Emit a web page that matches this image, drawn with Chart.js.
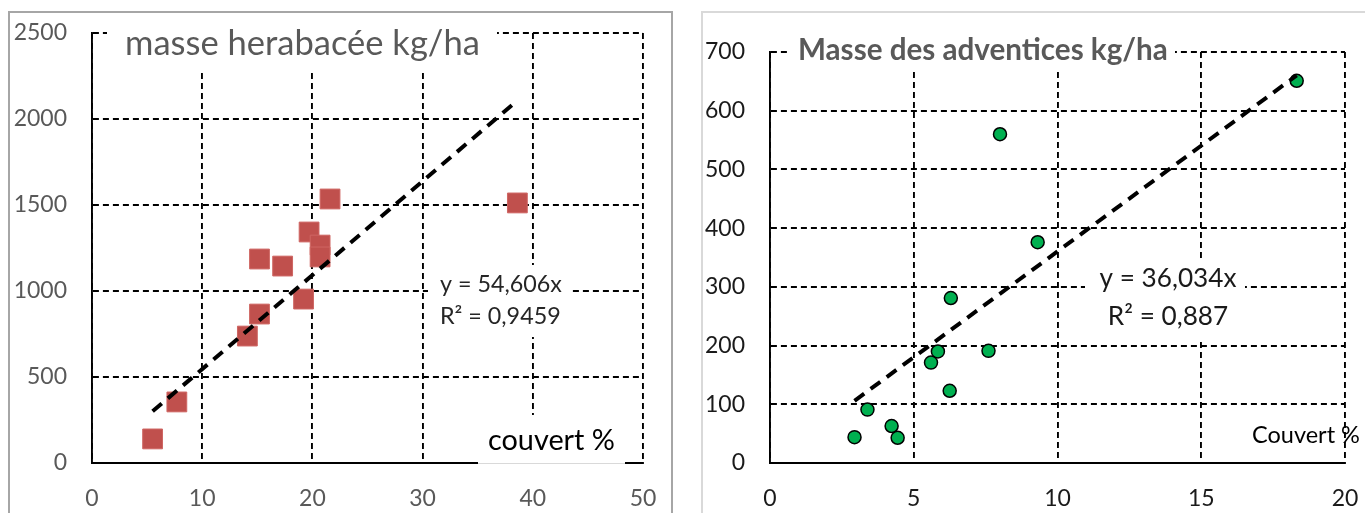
<!DOCTYPE html>
<html>
<head>
<meta charset="utf-8">
<script src="https://cdn.jsdelivr.net/npm/chart.js"></script>
<style>
  body { margin: 0; background: #fff; width: 1365px; height: 513px; overflow: hidden; position: relative; }
  .frame { position: absolute; box-sizing: border-box; }
  #frameL { left: 8px; top: 11px; width: 665px; height: 530px; border: 2px solid #a6a6a6; }
  #frameR { left: 701px; top: 11px; width: 700px; height: 530px; border: 2px solid #d9d9d9; }
  #herbChart { position: absolute; left: 0; top: 0; }
  #advChart { position: absolute; left: 690px; top: 0; }
</style>
</head>
<body>
<div class="frame" id="frameL"></div>
<div class="frame" id="frameR"></div>
<canvas id="herbChart" width="680" height="513"></canvas>
<canvas id="advChart" width="675" height="513"></canvas>
<script>
// graphique de gauche : masse herbacée
const couvertHerb = [5.5, 7.7, 14.1, 15.2, 15.2, 17.3, 19.2, 19.7, 20.7, 20.7, 21.6, 38.6];
const masseHerb = [140, 355, 738, 866, 1186, 1145, 953, 1343, 1267, 1198, 1535, 1512];
const penteHerb = 54.606;
const axeXHerb = [0, 50, 10];   // min, max, pas
const axeYHerb = [0, 2500, 500];
const titreHerb = 'masse herabacée kg/ha';
const equationHerb = ['y = 54,606x', 'R² = 0,9459'];
const legendeXHerb = 'couvert %';

// graphique de droite : adventices
const couvertAdv = [2.94, 3.39, 4.23, 4.44, 5.6, 5.84, 6.29, 6.25, 7.6, 8.0, 9.31, 18.32];
const masseAdv = [44, 91, 63, 43, 171, 190, 281, 123, 191, 560, 376, 651];
const penteAdv = 36.034;
const axeXAdv = [0, 20, 5];
const axeYAdv = [0, 700, 100];
const titreAdv = 'Masse des adventices kg/ha';
const equationAdv = ['y = 36,034x', 'R² = 0,887'];
const legendeXAdv = 'Couvert %';

const FONT = 'Lato, "Open Sans", sans-serif';

function points(xs, ys) {
  return xs.map((x, i) => ({ x, y: ys[i] }));
}

function tendance(xs, pente) {
  const x0 = Math.min(...xs), x1 = Math.max(...xs);
  return [{ x: x0, y: pente * x0 }, { x: x1, y: pente * x1 }];
}

function tailleAjustee(ctx, text, weight, width) {
  ctx.font = weight + ' 100px ' + FONT;
  return 100 * width / ctx.measureText(text).width;
}

// boîtes blanches + textes posés par-dessus la grille
const annotations = {
  id: 'annotations',
  afterDraw(chart, args, opts) {
    const ctx = chart.ctx;
    ctx.save();
    (opts.boxes || []).forEach(b => {
      ctx.fillStyle = '#fff';
      ctx.fillRect(b.x, b.y, b.w, b.h);
      if (b.bottomLine) {
        ctx.strokeStyle = '#d9d9d9';
        ctx.lineWidth = 1;
        ctx.beginPath();
        ctx.moveTo(b.x, b.y + b.h - 0.5);
        ctx.lineTo(b.x + b.w, b.y + b.h - 0.5);
        ctx.stroke();
      }
    });
    (opts.texts || []).forEach(t => {
      const size = tailleAjustee(ctx, t.lines[0], t.weight || 'normal', t.width);
      ctx.font = (t.weight || 'normal') + ' ' + size + 'px ' + FONT;
      ctx.fillStyle = t.color;
      ctx.textAlign = t.align || 'left';
      ctx.textBaseline = 'alphabetic';
      t.lines.forEach((line, i) => ctx.fillText(line, t.x, t.y + i * (t.lineGap || 0)));
    });
    ctx.restore();
  }
};

function echelle(axe, color, pad, fit) {
  return {
    type: 'linear',
    min: axe[0],
    max: axe[1],
    afterFit: s => {
      fit(s);
      s.paddingLeft = 0; s.paddingRight = 0;
      s.paddingTop = 0; s.paddingBottom = 0;
    },
    ticks: {
      stepSize: axe[2],
      color,
      font: { family: FONT, size: 23 },
      padding: pad,
      callback: v => String(v)
    },
    grid: { color: '#000', lineWidth: 1.9, drawTicks: false },
    border: { display: true, color: '#000', width: 1.9, dash: [6, 4] }
  };
}

function creer(id, cfg) {
  return new Chart(document.getElementById(id), {
    type: 'scatter',
    data: {
      datasets: [
        {
          type: 'line',
          data: tendance(cfg.xs, cfg.pente),
          showLine: true,
          borderColor: '#000',
          borderWidth: 4,
          borderDash: [12, 8],
          pointRadius: 0,
          fill: false
        },
        Object.assign({ data: points(cfg.xs, cfg.ys) }, cfg.marker)
      ]
    },
    options: {
      responsive: false,
      animation: false,
      layout: { padding: cfg.padding },
      plugins: {
        legend: { display: false },
        tooltip: { enabled: false },
        annotations: cfg.annotations
      },
      scales: {
        x: echelle(cfg.axeX, cfg.tickColor, 22, s => { s.height = 50; }),
        y: echelle(cfg.axeY, cfg.tickColor, 25, s => { s.width = cfg.yWidth; })
      }
    },
    plugins: [annotations]
  });
}

creer('herbChart', {
  xs: couvertHerb, ys: masseHerb, pente: penteHerb,
  axeX: axeXHerb, axeY: axeYHerb,
  tickColor: '#595959',
  yWidth: 92,
  padding: { top: 33, right: 37, left: 0, bottom: 0 },
  marker: {
    pointStyle: 'rect',
    pointRadius: 14,
    backgroundColor: '#C0504D',
    borderColor: '#cf6663',
    borderWidth: 1
  },
  annotations: {
    boxes: [
      { x: 107, y: 18, w: 390, h: 55 },
      { x: 428, y: 265, w: 142, h: 72 },
      { x: 478, y: 415, w: 147, h: 49, bottomLine: true }
    ],
    texts: [
      { lines: [titreHerb], x: 125, y: 55, width: 355, color: '#595959' },
      { lines: equationHerb, x: 440, y: 292, width: 122, color: '#262626', lineGap: 32 },
      { lines: [legendeXHerb], x: 488, y: 450, width: 127, color: '#000' }
    ]
  }
});

creer('advChart', {
  xs: couvertAdv, ys: masseAdv, pente: penteAdv,
  axeX: axeXAdv, axeY: axeYAdv,
  tickColor: '#1a1a1a',
  yWidth: 80,
  padding: { top: 52, right: 20, left: 0, bottom: 0 },
  marker: {
    pointStyle: 'circle',
    pointRadius: 6.5,
    backgroundColor: '#00B050',
    borderColor: '#000',
    borderWidth: 1.5
  },
  annotations: {
    boxes: [
      { x: 100, y: 25, w: 385, h: 47 },
      { x: 395, y: 262, w: 160, h: 76 }
    ],
    texts: [
      { lines: [titreAdv], x: 108, y: 60, width: 370, color: '#595959', weight: 'bold' },
      { lines: equationAdv, x: 478, y: 287, width: 137, color: '#1a1a1a', align: 'center', lineGap: 38 },
      { lines: [legendeXAdv], x: 562, y: 443, width: 108, color: '#000' }
    ]
  }
});
</script>
</body>
</html>
